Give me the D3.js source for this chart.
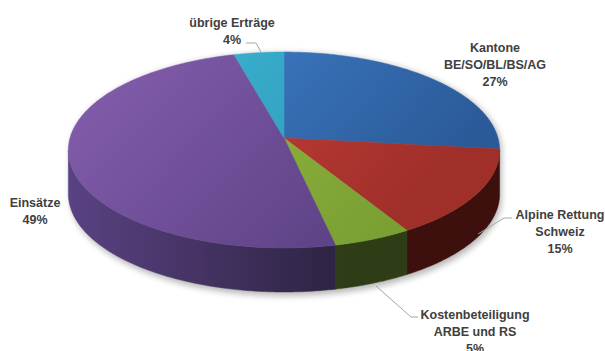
<!DOCTYPE html>
<html>
<head>
<meta charset="utf-8">
<script src="https://cdn.jsdelivr.net/npm/d3@7"></script>
<style>
  html, body { margin: 0; padding: 0; background: #fff; }
  svg { display: block; }
  text { font-family: "Liberation Sans", Arial, sans-serif; font-weight: bold; font-size: 12.5px; fill: #404040; }
</style>
</head>
<body>
<svg id="chart" width="605" height="351"></svg>
<script>
// ---- data ----
const categories = ["Kantone BE/SO/BL/BS/AG", "Alpine Rettung Schweiz", "Kostenbeteiligung ARBE und RS", "Einsätze", "übrige Erträge"];
const labelLines = [["Kantone", "BE/SO/BL/BS/AG"], ["Alpine Rettung", "Schweiz"], ["Kostenbeteiligung", "ARBE und RS"], ["Einsätze"], ["übrige Erträge"]];
const values = [26.8, 14.6, 5.2, 49.2, 4.2];
const topColors = [["#3f7fca", "#2b5a98"], ["#cc423b", "#a02f2a"], ["#98bc42", "#7a9f33"], ["#7f5aa8", "#5a4082"], ["#3cb2d2", "#2c97b5"]];
const sideColors = [["#2a4d80", "#1d3a63"], ["#5a1a17", "#3d100e"], ["#3a4c1c", "#2e3d15"], ["#594282", "#2c2240"], ["#227c94", "#1b6478"]];

// ---- layout ----
const W = 605, H = 351;
const cx = 284, cy = 138, rx = 214, ry = 96.5, k = 0.1225, depth = 44;
const labelLayout = [
  { x: 495, y: 52, line: null },
  { x: 560, y: 219, line: [[512, 218], [504, 218], [478, 234]] },
  { x: 475, y: 319, line: [[418, 317], [411, 317], [376, 286]] },
  { x: 35, y: 207, line: null },
  { x: 232, y: 27, line: [[246, 43], [256, 43], [261, 52]] }
];

const svg = d3.select("#chart");
const defs = svg.append("defs");

function proj(theta, dy = 0) {
  const u = Math.sin(theta), v = -Math.cos(theta);
  const p = 1 / (1 - k * v);
  return [cx + rx * u * p, cy + ry * v * p + dy];
}

const pie = d3.pie().sort(null).value(d => d).startAngle(0).endAngle(2 * Math.PI);
const arcs = pie(values);

// find silhouette extremes
let thR = Math.PI / 2, thL = 3 * Math.PI / 2, maxX = -1e9, minX = 1e9;
for (let t = 0; t <= 2 * Math.PI; t += 0.001) {
  const [x] = proj(t);
  if (x > maxX) { maxX = x; thR = t; }
  if (x < minX) { minX = x; thL = t; }
}

function arcPts(a0, a1, dy) {
  const n = Math.max(2, Math.ceil((a1 - a0) / 0.01));
  const pts = [];
  for (let i = 0; i <= n; i++) pts.push(proj(a0 + (a1 - a0) * i / n, dy));
  return pts;
}
const line = d3.line();

// gradients
arcs.forEach((a, i) => {
  const gt = defs.append("linearGradient").attr("id", "gt" + i)
    .attr("gradientUnits", "userSpaceOnUse")
    .attr("x1", cx - rx * 0.6).attr("y1", cy - ry).attr("x2", cx + rx * 0.4).attr("y2", cy + ry * 1.1);
  gt.append("stop").attr("offset", "0%").attr("stop-color", topColors[i][0]);
  gt.append("stop").attr("offset", "100%").attr("stop-color", topColors[i][1]);
  const gs = defs.append("linearGradient").attr("id", "gs" + i)
    .attr("gradientUnits", "userSpaceOnUse")
    .attr("x1", cx - rx).attr("y1", 0).attr("x2", cx + rx * 0.3).attr("y2", 0);
  gs.append("stop").attr("offset", "0%").attr("stop-color", sideColors[i][0]);
  gs.append("stop").attr("offset", "100%").attr("stop-color", sideColors[i][1]);
});

// shadow
const f = defs.append("filter").attr("id", "blur").attr("x", "-20%").attr("y", "-20%").attr("width", "140%").attr("height", "140%");
f.append("feGaussianBlur").attr("stdDeviation", 3);
svg.append("path")
  .attr("d", line(arcPts(thL - 2 * Math.PI, thR, 0).concat(arcPts(thR, thL, depth + 3))) + "Z")
  .attr("transform", "translate(2,1)")
  .attr("fill", "#000").attr("opacity", 0.28).attr("filter", "url(#blur)");

// sides
const gSide = svg.append("g");
arcs.forEach((a, i) => {
  const s = Math.max(a.startAngle, thR), e = Math.min(a.endAngle, thL);
  if (e <= s) return;
  const top = arcPts(s, e, 0), bot = arcPts(s, e, depth).reverse();
  gSide.append("path").attr("d", line(top.concat(bot)) + "Z")
    .attr("fill", `url(#gs${i})`).attr("stroke", `url(#gs${i})`).attr("stroke-width", 0.5);
});

// tops
const gTop = svg.append("g");
arcs.forEach((a, i) => {
  const pts = [[cx, cy]].concat(arcPts(a.startAngle, a.endAngle, 0));
  gTop.append("path").attr("d", line(pts) + "Z")
    .attr("fill", `url(#gt${i})`).attr("stroke", `url(#gt${i})`).attr("stroke-width", 0.5);
});

// leader lines
labelLayout.forEach(l => {
  if (l.line) svg.append("path").attr("d", line(l.line)).attr("fill", "none")
    .attr("stroke", "#a6a6a6").attr("stroke-width", 1);
});

// labels
const fmt = d3.format(".0%");
arcs.forEach((a, i) => {
  const l = labelLayout[i];
  const lines = labelLines[i].concat([fmt(values[i] / d3.sum(values))]);
  const t = svg.append("text").attr("text-anchor", "middle").attr("x", l.x).attr("y", l.y);
  lines.forEach((s, j) => t.append("tspan").attr("x", l.x).attr("dy", j === 0 ? 0 : 17).text(s));
});
</script>
</body>
</html>
